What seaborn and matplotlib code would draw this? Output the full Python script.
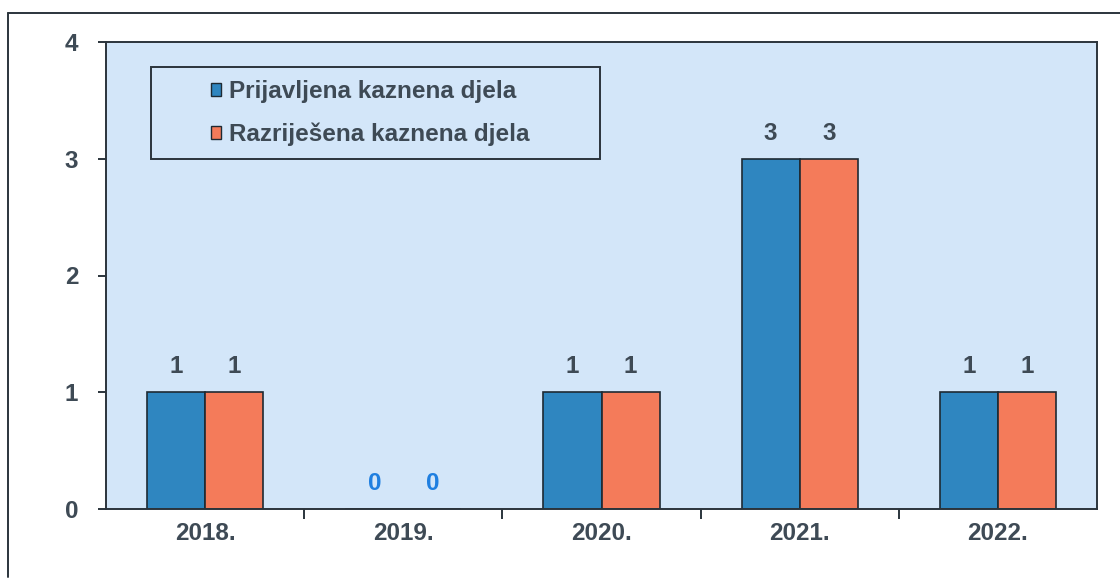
import numpy as np
import pandas as pd
import matplotlib
matplotlib.use("Agg")
import matplotlib.pyplot as plt
from matplotlib.patches import Rectangle
from matplotlib.lines import Line2D
import seaborn as sns

sns.set_theme(style="white")
plt.rcParams['font.family'] = ['Liberation Sans', 'DejaVu Sans']
plt.rcParams['font.weight'] = 'bold'

# Podaci
godine = ['2018.', '2019.', '2020.', '2021.', '2022.']
prijavljena = [1, 0, 1, 3, 1]
razrijesena = [1, 0, 1, 3, 1]
serije = ['Prijavljena kaznena djela', 'Razriješena kaznena djela']
boje = ['#2f86c0', '#f47b5a']

df = pd.DataFrame({
    'godina': godine * 2,
    'broj': prijavljena + razrijesena,
    'serija': [serije[0]] * len(godine) + [serije[1]] * len(godine),
})

tekst = '#3e4a55'
fs = 17.5

fig = plt.figure(figsize=(11.2, 5.8), dpi=100)
ax = fig.add_axes([106 / 1120, 1 - 509 / 580, (1097 - 106) / 1120, (509 - 42) / 580])
ax.set_facecolor('#d3e6f9')

sns.barplot(data=df, x='godina', y='broj', hue='serija', palette=boje, saturation=1,
            width=0.586, edgecolor='#1e2a33', linewidth=1.2,
            errorbar=None, ax=ax, legend=False)

ax.set_ylim(0, 4)
ax.set_xlim(-0.5, 4.5)
ax.set_yticks([0, 1, 2, 3, 4])
ax.set_xlabel('')
ax.set_ylabel('')

for s in ax.spines.values():
    s.set_color('#2b343c')
    s.set_linewidth(1.4)

# kvacice izmedju kategorija
ax.set_xticks(np.arange(len(godine)))
ax.set_xticklabels(godine)
ax.tick_params(axis='x', length=0, pad=9, labelsize=fs, labelcolor=tekst)
ax.set_xticks(np.arange(len(godine) - 1) + 0.5, minor=True)
ax.tick_params(axis='x', which='minor', bottom=True, length=7, width=1.4, color='#2b343c')
ax.tick_params(axis='y', left=True, length=6, width=1.4, color='#2b343c', pad=14,
               labelsize=fs, labelcolor=tekst)

# vrijednosti iznad stupaca
for cont in ax.containers:
    tx = ax.bar_label(cont, fmt='%d', padding=10, fontsize=fs, color=tekst, fontweight='bold')
    for t, b in zip(tx, cont):
        if b.get_height() == 0:
            t.set_color('#1f7fe0')

# legenda
ax.add_patch(Rectangle((0.0454, 0.7495), 0.4531, 0.197, transform=ax.transAxes,
                       facecolor='none', edgecolor='#2b343c', linewidth=1.4, zorder=5))
rucke = [Rectangle((0, 0), 1, 1, facecolor=c, edgecolor='#1e2a33', linewidth=1) for c in boje]
leg = ax.legend(rucke, serije, loc='center left', bbox_to_anchor=(0.106, 0.848),
                frameon=False, borderpad=0, borderaxespad=0,
                prop={'size': fs, 'weight': 'bold'},
                handlelength=0.42, handleheight=0.42, handletextpad=0.3,
                labelspacing=0.8, labelcolor=tekst)

# okvir oko grafa
fig.add_artist(Line2D([8 / 1120, 8 / 1120], [1 - 577 / 580, 1 - 13 / 580],
                      color='#2b343c', linewidth=1.4))
fig.add_artist(Line2D([8 / 1120, 1.0], [1 - 13 / 580, 1 - 13 / 580],
                      color='#2b343c', linewidth=1.4))

fig.savefig('out.png', dpi=100, facecolor='white')
